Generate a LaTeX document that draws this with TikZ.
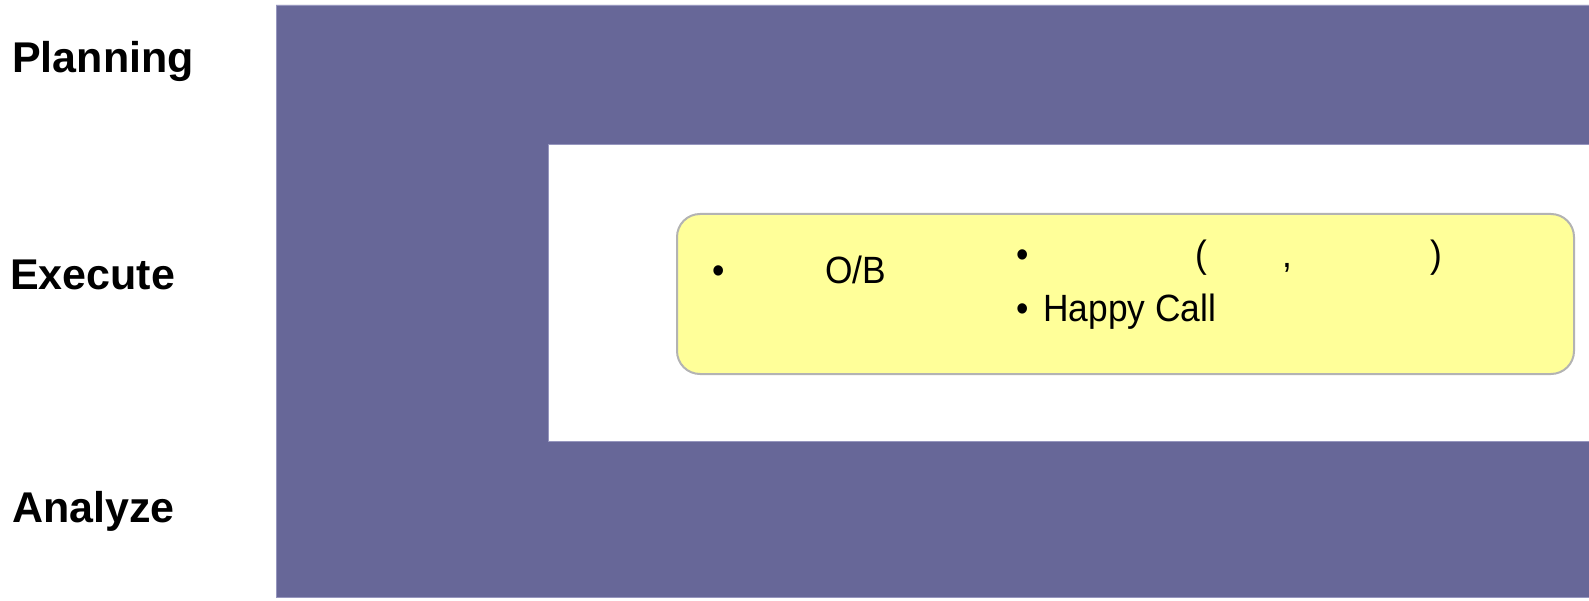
\documentclass[tikz,border=0pt]{standalone}
\usepackage{fontspec}
\setmainfont{Liberation Sans}
\newfontfamily\notefont[FakeStretch=0.93]{Liberation Sans}
\definecolor{bandpurple}{RGB}{103,103,152}
\definecolor{bandedge}{RGB}{150,150,190}
\definecolor{boxyellow}{RGB}{255,255,153}
\definecolor{boxborder}{RGB}{179,179,179}
\begin{document}
\begin{tikzpicture}[x=1pt,y=-1pt,
  phase/.style={inner sep=0pt,anchor=base west,font=\fontsize{43}{50}\selectfont\bfseries},
  boxtext/.style={inner sep=0pt,font=\notefont\fontsize{38}{44}\selectfont},
  noteshape/.style={draw=boxborder,line width=2pt,fill=boxyellow,rounded corners=23pt}]
\useasboundingbox (0,0) rectangle (1589,601);
% purple band
\path[fill=bandpurple,draw=bandedge,line width=0.8pt]
  (276,5) -- (1589,5) -- (1589,144) -- (548,144) -- (548,441) -- (1589,441) -- (1589,597) -- (276,597) -- cycle;
% yellow note
\node[noteshape,minimum width=897pt,minimum height=160pt,anchor=north west] (note) at (676,213) {};
% labels
\node[phase] (planning) at (12,72.5) {Planning};
\node[phase] (execute) at (10,290) {Execute};
\node[phase] (analyze) at (12,522) {Analyze};
% note text
\node[boxtext,anchor=base] (b1) at (719,284) {•};
\node[boxtext,anchor=base west] (ob) at (825,284) {O/B};
\node[boxtext,anchor=base] (b2) at (1023,268) {•};
\node[boxtext,anchor=base west] (lp) at (1195,268) {(};
\node[boxtext,anchor=base] (cm) at (1287,268) {,};
\node[boxtext,anchor=base east] (rp) at (1442,268) {)};
\node[boxtext,anchor=base] (b3) at (1023,322) {•};
\node[boxtext,anchor=base west] (hc) at (1043,322) {Happy Call};
\end{tikzpicture}
\end{document}
